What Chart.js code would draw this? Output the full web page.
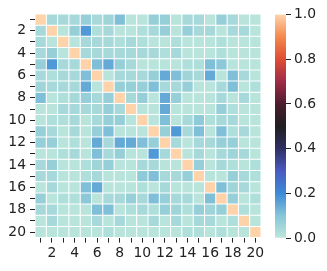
<!DOCTYPE html>
<html>
<head>
<meta charset="utf-8">
<script src="https://cdn.jsdelivr.net/npm/chart.js@4"></script>
<style>
  html, body { margin: 0; padding: 0; background: #fff; }
  #wrap { position: relative; width: 327px; height: 271px; }
  #main { position: absolute; left: 0; top: 0; }
  #cbar { position: absolute; left: 262px; top: 0; }
</style>
</head>
<body>
<div id="wrap">
  <canvas id="main" width="327" height="271"></canvas>
  <canvas id="cbar" width="65" height="271"></canvas>
</div>
<script>
// ---- data ----
const rowLabels = ['1','2','3','4','5','6','7','8','9','10','11','12','13','14','15','16','17','18','19','20'];
const colLabels = ['1','2','3','4','5','6','7','8','9','10','11','12','13','14','15','16','17','18','19','20'];
const corr = [
  [1, .04, .04, .04, .07, .04, .055, .11, .01, .01, .07, .07, .01, .04, .04, .01, .07, .04, .01, .01],
  [.04, 1, .01, .07, .175, .025, .04, .01, .01, .025, .04, .07, .01, .07, .04, .04, .01, .04, .04, .01],
  [.04, .01, 1, .01, .04, .04, .04, .025, .04, .025, .01, .01, .025, .01, .01, .01, .025, .01, .01, .01],
  [.04, .07, .01, 1, .04, .04, .04, .04, .04, .04, .04, .025, .04, .01, .01, .01, .025, .01, .01, .01],
  [.07, .175, .04, .04, 1, .11, .145, .07, .04, .01, .01, .01, .01, .025, .025, .11, .09, .01, .01, .01],
  [.04, .025, .04, .04, .11, 1, .01, .04, .04, .04, .07, .145, .11, .055, .04, .145, .01, .11, .04, .01],
  [.055, .04, .04, .04, .145, .01, 1, .07, .07, .07, .11, .04, .04, .07, .01, .01, .04, .11, .01, .025],
  [.11, .01, .025, .04, .07, .04, .07, 1, .04, .07, .01, .145, .07, .01, .01, .01, .04, .01, .04, .01],
  [.01, .01, .04, .04, .04, .04, .07, .04, 1, .01, .01, .145, .01, .01, .01, .01, .07, .025, .01, .01],
  [.01, .025, .025, .04, .01, .04, .07, .07, .01, 1, .01, .11, .01, .04, .085, .025, .04, .04, .01, .01],
  [.07, .04, .01, .04, .01, .07, .11, .01, .01, .01, 1, .07, .175, .04, .11, .01, .11, .025, .04, .01],
  [.07, .07, .01, .025, .01, .145, .04, .145, .145, .11, .07, 1, .04, .01, .04, .04, .07, .07, .01, .01],
  [.01, .01, .025, .04, .01, .11, .04, .07, .01, .01, .175, .04, 1, .01, .04, .01, .04, .055, .04, .01],
  [.04, .07, .01, .01, .025, .055, .07, .01, .01, .04, .04, .01, .01, 1, .07, .01, .04, .025, .01, .025],
  [.04, .04, .01, .01, .025, .04, .01, .01, .01, .085, .11, .04, .04, .07, 1, .01, .01, .07, .04, .025],
  [.01, .04, .01, .01, .11, .145, .01, .01, .01, .025, .01, .04, .01, .01, .01, 1, .11, .055, .04, .01],
  [.07, .01, .025, .025, .09, .01, .04, .04, .07, .04, .11, .07, .04, .04, .01, .11, 1, .07, .01, .025],
  [.04, .04, .01, .01, .01, .11, .11, .01, .025, .04, .025, .07, .055, .025, .07, .055, .07, 1, .025, .01],
  [.01, .04, .01, .01, .01, .04, .01, .04, .01, .01, .04, .01, .04, .01, .04, .04, .01, .025, 1, .01],
  [.01, .01, .01, .01, .01, .01, .025, .01, .01, .01, .01, .01, .01, .025, .025, .01, .025, .01, .01, 1]
];
const cbarTicks = [0, 0.2, 0.4, 0.6, 0.8, 1.0];
const cbarRange = [0, 1];

// ---- style: icefire-like colormap ----
const cmapPos = [0, 0.1, 0.2, 0.3, 0.4, 0.5, 0.6, 0.7, 0.8, 0.9, 1.0];
const cmapRGB = [
  [189,231,219],[134,197,216],[61,138,214],[74,91,192],[47,47,98],
  [31,31,34],[75,30,46],[160,43,71],[222,77,53],[244,137,78],[254,211,170]
];
function cmap(v) {
  v = Math.max(0, Math.min(1, v));
  for (let i = 0; i < cmapPos.length - 1; i++) {
    if (v <= cmapPos[i+1]) {
      const t = (v - cmapPos[i]) / (cmapPos[i+1] - cmapPos[i]);
      const a = cmapRGB[i], b = cmapRGB[i+1];
      return `rgb(${Math.round(a[0]+(b[0]-a[0])*t)},${Math.round(a[1]+(b[1]-a[1])*t)},${Math.round(a[2]+(b[2]-a[2])*t)})`;
    }
  }
  const c = cmapRGB[cmapRGB.length-1];
  return `rgb(${c[0]},${c[1]},${c[2]})`;
}

const FONT = { family: "'DejaVu Sans', sans-serif", size: 13.9 };
const TXT = '#222';

// ---- heatmap ----
new Chart(document.getElementById('main'), {
  type: 'bar',
  data: {
    labels: colLabels,
    datasets: corr.map((row, i) => ({
      label: rowLabels[i],
      data: row.map(() => 1),
      backgroundColor: row.map(v => cmap(v)),
      borderColor: '#ffffff',
      borderWidth: 0.5,
      borderSkipped: false,
      barPercentage: 1,
      categoryPercentage: 1,
      inflateAmount: 0
    }))
  },
  options: {
    responsive: false,
    animation: false,
    events: [],
    layout: { padding: { top: 14, right: 66, left: 0, bottom: 0 } },
    plugins: { legend: { display: false }, tooltip: { enabled: false } },
    scales: {
      x: {
        type: 'category',
        stacked: true,
        offset: true,
        grid: { offset: false, drawOnChartArea: false, drawTicks: true, tickLength: 5, color: '#222', lineWidth: 1 },
        border: { display: false },
        ticks: {
          autoSkip: false, maxRotation: 0, minRotation: 0, padding: 2,
          color: TXT, font: FONT,
          callback: (v, i) => (Number(colLabels[i]) % 2 === 0 ? colLabels[i] : '')
        },
        afterFit: s => { s.height = 33.4; }
      },
      y: {
        type: 'linear',
        stacked: true,
        reverse: true,
        min: 0, max: rowLabels.length,
        afterBuildTicks: s => { s.ticks = rowLabels.map((l, i) => ({ value: i + 0.5 })); },
        grid: { drawOnChartArea: false, drawTicks: true, tickLength: 5, color: '#222', lineWidth: 1 },
        border: { display: false },
        ticks: {
          autoSkip: false, padding: 4, color: TXT, font: FONT,
          callback: v => {
            const l = rowLabels[Math.round(v - 0.5)];
            return Number(l) % 2 === 0 ? l : '';
          }
        },
        afterFit: s => { s.width = 35; }
      }
    }
  }
});

// ---- colorbar ----
new Chart(document.getElementById('cbar'), {
  type: 'bar',
  data: {
    labels: [''],
    datasets: [{
      data: [cbarRange],
      backgroundColor: ctx => {
        const ch = ctx.chart;
        if (!ch.chartArea) return cmap(0);
        const y = ch.scales.y;
        const g = ch.ctx.createLinearGradient(0, y.getPixelForValue(cbarRange[0]), 0, y.getPixelForValue(cbarRange[1]));
        cmapPos.forEach((p, i) => g.addColorStop(p, cmap(p)));
        return g;
      },
      borderWidth: 0,
      barPercentage: 1,
      categoryPercentage: 1
    }]
  },
  options: {
    responsive: false,
    animation: false,
    events: [],
    layout: { padding: { top: 14.5, left: 13, bottom: 33, right: 0 } },
    plugins: { legend: { display: false }, tooltip: { enabled: false } },
    scales: {
      x: { display: false },
      y: {
        position: 'right',
        min: cbarRange[0], max: cbarRange[1],
        afterBuildTicks: s => { s.ticks = cbarTicks.map(v => ({ value: v })); },
        grid: { drawOnChartArea: false, drawTicks: true, tickLength: 5, color: '#222', lineWidth: 1 },
        border: { display: false },
        ticks: { padding: 3, color: TXT, font: FONT, callback: v => Number(v).toFixed(1) },
        afterFit: s => { s.width = 41; }
      }
    }
  }
});
</script>
</body>
</html>
